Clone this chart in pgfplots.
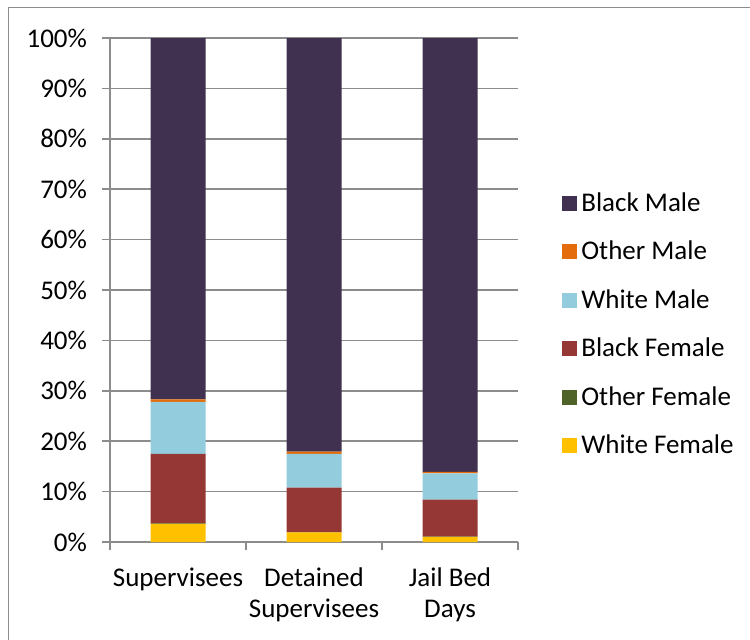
\documentclass[border=0pt]{standalone}
\usepackage{fontspec}
\setmainfont{Carlito}
\usepackage{pgfplots}
\usepackage{pgfplotstable}
\pgfplotsset{compat=1.18}

\definecolor{bm}{HTML}{403151}
\definecolor{om}{HTML}{E46C0A}
\definecolor{wm}{HTML}{93CDDD}
\definecolor{bf}{HTML}{953735}
\definecolor{of}{HTML}{4F6228}
\definecolor{wf}{HTML}{FFC000}
\definecolor{gridgray}{HTML}{8C8C8C}

% share of each group, in percent
\pgfplotstableread{
x  WF   OF    BF    WM    OM    BM
0  3.6  0.1   13.8  10.3  0.5   71.7
1  1.9  0.05  8.85  6.7   0.45  82.05
2  1.0  0.05  7.35  5.2   0.3   86.1
}\shares

\begin{document}
\begin{tikzpicture}[x=1pt,y=1pt,font=\fontsize{13.5}{15.5}\selectfont]
\path[use as bounding box] (0,0) rectangle (375,-319.5);
\draw[gridgray, line width=0.7pt] (4.1,-340) -- (4.1,-3.8) -- (400,-3.8);
\begin{axis}[
  at={(55pt,-271pt)}, anchor=south west,
  width=204pt, height=252pt, scale only axis,
  xmin=-0.5, xmax=2.5, ymin=0, ymax=100,
  ybar stacked, bar width=27.5pt,
  axis lines=left,
  axis line style={-, draw=gridgray, line width=0.75pt},
  ytick={0,10,...,100},
  yticklabels={0\%,10\%,20\%,30\%,40\%,50\%,60\%,70\%,80\%,90\%,100\%},
  ymajorgrids,
  grid style={gridgray, line width=0.75pt},
  tick align=outside,
  major tick length=4pt,
  tick style={gridgray, line width=0.75pt},
  yticklabel style={xshift=-4pt},
  xtick={-0.5,0.5,1.5,2.5},
  xticklabels={},
  extra x ticks={0,1,2},
  extra x tick labels={Supervisees,{Detained\\Supervisees},{Jail Bed\\Days}},
  extra x tick style={major tick length=0pt, grid=none},
  xticklabel style={align=center, yshift=-9.5pt},
  reverse legend,
  legend cell align=left,
  legend style={draw=none, fill=none, at={(1.093,0.4315)}, anchor=west,
    row sep=9.4pt},
  legend image code/.code={\fill[#1] (0pt,-3.75pt) rectangle (7.5pt,3.75pt);},
]
\addplot[fill=wf, draw=none] table[x=x, y=WF] {\shares};
\addplot[fill=of, draw=none] table[x=x, y=OF] {\shares};
\addplot[fill=bf, draw=none] table[x=x, y=BF] {\shares};
\addplot[fill=wm, draw=none] table[x=x, y=WM] {\shares};
\addplot[fill=om, draw=none] table[x=x, y=OM] {\shares};
\addplot[fill=bm, draw=none] table[x=x, y=BM] {\shares};
\legend{White Female, Other Female, Black Female, White Male, Other Male, Black Male}
\end{axis}
\end{tikzpicture}
\end{document}
